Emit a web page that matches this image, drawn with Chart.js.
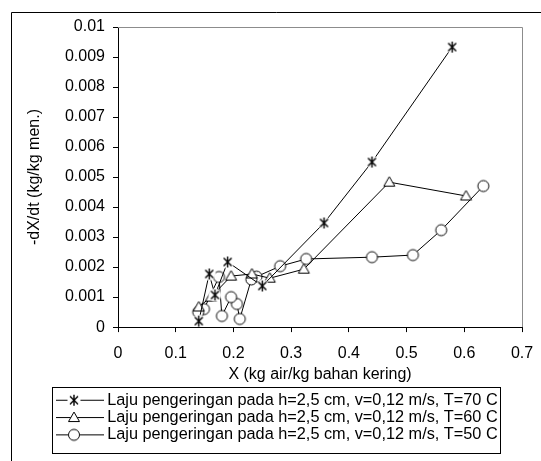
<!DOCTYPE html>
<html lang="id">
<head>
<meta charset="UTF-8">
<title>Laju pengeringan</title>
<script src="https://cdn.jsdelivr.net/npm/chart.js"></script>
<style>
  body { margin: 0; background: #fff; }
</style>
</head>
<body>
<canvas id="grafik" width="541" height="461"></canvas>
<script>
// data (X, -dX/dt)
var x70 = [0.579, 0.440, 0.357, 0.250, 0.190, 0.168, 0.158, 0.140];
var y70 = [0.00933, 0.00550, 0.00347, 0.00137, 0.00217, 0.00107, 0.00177, 0.00020];

var x60 = [0.603, 0.470, 0.322, 0.263, 0.232, 0.196, 0.161, 0.140];
var y60 = [0.00437, 0.00483, 0.00193, 0.00163, 0.00177, 0.00170, 0.00100, 0.00067];

var x50 = [0.633, 0.560, 0.511, 0.440, 0.326, 0.281, 0.240, 0.231, 0.211, 0.206, 0.196, 0.180, 0.175, 0.149, 0.139];
var y50 = [0.00470, 0.00323, 0.00240, 0.00233, 0.00227, 0.00203, 0.00168, 0.00159, 0.00027, 0.00077, 0.00100, 0.00037, 0.00167, 0.00060, 0.00050];

var namaSeri = [
    'Laju pengeringan pada h=2,5 cm, v=0,12 m/s, T=70 C',
    'Laju pengeringan pada h=2,5 cm, v=0,12 m/s, T=60 C',
    'Laju pengeringan pada h=2,5 cm, v=0,12 m/s, T=50 C'
];

var xTickVals = [0, 0.1, 0.2, 0.3, 0.4, 0.5, 0.6, 0.7];
var xTickLabels = ['0', '0.1', '0.2', '0.3', '0.4', '0.5', '0.6', '0.7'];
var yTickVals = [0, 0.001, 0.002, 0.003, 0.004, 0.005, 0.006, 0.007, 0.008, 0.009, 0.01];
var yTickLabels = ['0', '0.001', '0.002', '0.003', '0.004', '0.005', '0.006', '0.007', '0.008', '0.009', '0.01'];

var judulX = 'X (kg air/kg bahan kering)';
var judulY = '-dX/dt (kg/kg men.)';

var huruf = {family: 'Liberation Sans, Arial, sans-serif', size: 16};

function gabung(xs, ys) {
    return xs.map(function(x, i) { return {x: x, y: ys[i]}; });
}

// gambar marker; untuk legend ada garis contoh dan marker agak ke kiri
function marker(jenis, lebar) {
    var c = document.createElement('canvas');
    c.width = lebar;
    c.height = 15;
    var g = c.getContext('2d');
    var cx = lebar > 15 ? 18 : lebar / 2, cy = 7.5;
    g.strokeStyle = '#000';
    g.lineWidth = 1;
    if (lebar > 15) {
        g.beginPath();
        g.moveTo(0, cy);
        g.lineTo(lebar - 2, cy);
        g.stroke();
    }
    g.fillStyle = '#fff';
    if (jenis == 'bintang') {
        g.beginPath();
        g.arc(cx, cy, 6.5, 0, Math.PI * 2);
        g.fill();
        g.lineWidth = 1.4;
        g.beginPath();
        g.moveTo(cx - 4, cy - 4); g.lineTo(cx + 4, cy + 4);
        g.moveTo(cx + 4, cy - 4); g.lineTo(cx - 4, cy + 4);
        g.moveTo(cx, cy - 5.5); g.lineTo(cx, cy + 5.5);
        g.stroke();
    } else if (jenis == 'segitiga') {
        g.beginPath();
        g.moveTo(cx, cy - 5.5);
        g.lineTo(cx + 5.5, cy + 4);
        g.lineTo(cx - 5.5, cy + 4);
        g.closePath();
        g.fill();
        g.stroke();
    } else {
        g.beginPath();
        g.arc(cx, cy, 5.5, 0, Math.PI * 2);
        g.fill();
        g.stroke();
    }
    return c;
}

var jenisMarker = ['bintang', 'segitiga', 'bulat'];

var bingkai = {
    id: 'bingkai',
    beforeDraw: function(chart) {
        var ctx = chart.ctx;
        ctx.save();
        ctx.fillStyle = '#fff';
        ctx.fillRect(0, 0, chart.width, chart.height);
        ctx.strokeStyle = '#000';
        ctx.lineWidth = 1;
        ctx.beginPath();
        ctx.moveTo(11.5, chart.height);
        ctx.lineTo(11.5, 12.5);
        ctx.lineTo(chart.width, 12.5);
        ctx.stroke();
        ctx.restore();
    },
    beforeDatasetsDraw: function(chart) {
        var a = chart.chartArea;
        var ctx = chart.ctx;
        ctx.save();
        ctx.strokeStyle = '#8c8c8c';
        ctx.lineWidth = 1;
        ctx.beginPath();
        ctx.moveTo(a.left, Math.round(a.top) + 0.5);
        ctx.lineTo(Math.round(a.right) + 0.5, Math.round(a.top) + 0.5);
        ctx.lineTo(Math.round(a.right) + 0.5, a.bottom);
        ctx.stroke();
        ctx.restore();
    },
    afterLayout: function(chart) {
        // geser legend supaya baris mulai di x = 63
        var lg = chart.legend;
        var pad = lg.options.labels.padding;
        var tengah = 63 + (lg.lineWidths[0] - pad) / 2;
        var dx = tengah - (lg.left + lg.right) / 2;
        lg.left += dx;
        lg.right += dx;
    },
    afterDraw: function(chart) {
        var boxes = chart.legend.legendHitBoxes;
        if (!boxes || !boxes.length) return;
        var l = 1e9, r = -1e9, t = 1e9, b = -1e9;
        boxes.forEach(function(h) {
            l = Math.min(l, h.left);
            r = Math.max(r, h.left + h.width);
            t = Math.min(t, h.top);
            b = Math.max(b, h.top + h.height);
        });
        var ctx = chart.ctx;
        ctx.save();
        ctx.strokeStyle = '#000';
        ctx.lineWidth = 1;
        ctx.strokeRect(Math.round(l - 11) + 0.5, Math.round(t - 5) + 0.5, Math.round(r - l + 13), Math.round(b - t + 15));
        ctx.restore();
    }
};

var ctx = document.getElementById('grafik').getContext('2d');
var myChart = new Chart(ctx, {
    type: 'scatter',
    data: {
        datasets: [x70, x60, x50].map(function(xs, i) {
            var ys = [y70, y60, y50][i];
            return {
                label: namaSeri[i],
                data: gabung(xs, ys),
                showLine: true,
                borderColor: '#000',
                borderWidth: 1,
                tension: 0,
                pointStyle: marker(jenisMarker[i], 15),
                legendStyle: marker(jenisMarker[i], 50)
            };
        })
    },
    plugins: [bingkai],
    options: {
        responsive: false,
        animation: false,
        devicePixelRatio: 1,
        layout: {
            padding: {top: 27, right: 19, bottom: 8, left: 12}
        },
        plugins: {
            tooltip: {enabled: false},
            legend: {
                position: 'bottom',
                labels: {
                    usePointStyle: true,
                    pointStyleWidth: 36,
                    padding: 1,
                    color: '#000',
                    font: {family: 'Liberation Sans, Arial, sans-serif', size: 16.3},
                    generateLabels: function(chart) {
                        return chart.data.datasets.map(function(ds, i) {
                            return {
                                text: ds.label,
                                pointStyle: ds.legendStyle,
                                fillStyle: '#fff',
                                strokeStyle: '#000',
                                lineWidth: 1,
                                fontColor: '#000',
                                hidden: false,
                                datasetIndex: i
                            };
                        });
                    }
                }
            }
        },
        scales: {
            x: {
                type: 'linear',
                min: 0,
                max: 0.7,
                afterBuildTicks: function(scale) {
                    scale.ticks = xTickVals.map(function(v) { return {value: v}; });
                },
                afterFit: function(scale) {
                    scale.height = 64;
                    scale.paddingLeft = 0;
                    scale.paddingRight = 0;
                },
                ticks: {
                    color: '#000',
                    padding: 12,
                    maxRotation: 0,
                    font: huruf,
                    callback: function(v, i) { return xTickLabels[i]; }
                },
                grid: {drawOnChartArea: false, drawTicks: true, tickLength: 5, color: '#000'},
                border: {color: '#000', width: 1},
                title: {
                    display: true,
                    text: judulX,
                    color: '#000',
                    padding: {top: 0, bottom: 7},
                    font: huruf
                }
            },
            y: {
                type: 'linear',
                min: 0,
                max: 0.01,
                afterBuildTicks: function(scale) {
                    scale.ticks = yTickVals.map(function(v) { return {value: v}; });
                },
                afterFit: function(scale) { scale.width = 106; },
                ticks: {
                    color: '#000',
                    padding: 8,
                    font: huruf,
                    callback: function(v, i) { return yTickLabels[i]; }
                },
                grid: {drawOnChartArea: false, drawTicks: true, tickLength: 5, color: '#000'},
                border: {color: '#000', width: 1},
                title: {
                    display: true,
                    text: judulY,
                    color: '#000',
                    padding: {top: 13, bottom: 0},
                    font: huruf
                }
            }
        }
    }
});
</script>
</body>
</html>
